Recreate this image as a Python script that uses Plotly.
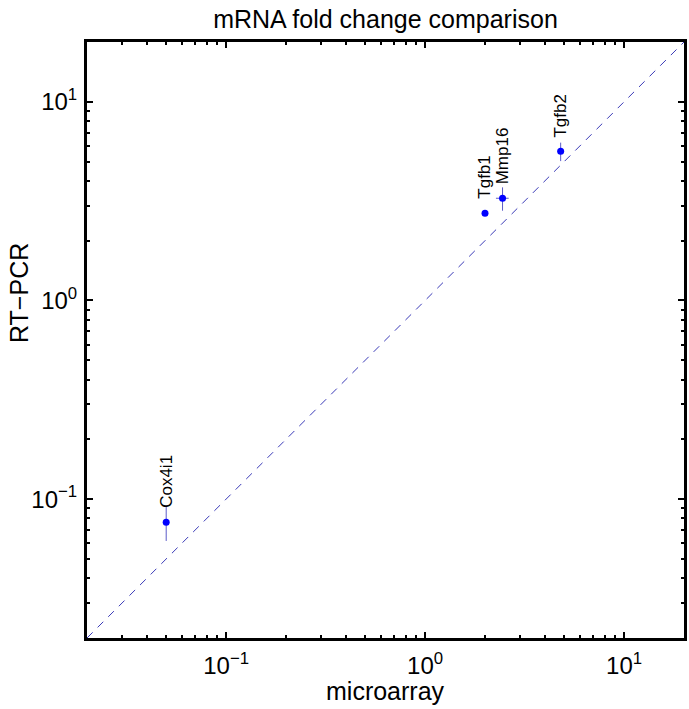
import math
import plotly.graph_objects as go

# ---- data ----
genes = ["Cox4i1", "Tgfb1", "Mmp16", "Tgfb2"]
microarray = [0.05, 2.0, 2.45, 4.8]
rtpcr = [0.0766, 2.75, 3.27, 5.63]
rtpcr_err = [0.015, 0.0, 0.44, 0.6]
microarray_err = [0.0, 0.0, 0.18, 0.0]

axis_lo, axis_hi = 0.02, 20
tick_vals = [0.1, 1, 10]
tick_text = ["10<sup>−1</sup>", "10<sup>0</sup>", "10<sup>1</sup>"]
minor_vals = [m * d for d in [0.01, 0.1, 1, 10] for m in range(2, 10)
              if axis_lo <= m * d <= axis_hi]

FONT = "Liberation Sans, Arial, Helvetica, sans-serif"
W, H = 689, 709
L, R, T, B = 87, 5, 42, 71

fig = go.Figure()

# identity line
fig.add_trace(go.Scatter(
    x=[axis_lo, axis_hi], y=[axis_lo, axis_hi], mode="lines",
    line=dict(color="#3a3ab8", width=1, dash="8px,7px"),
    hoverinfo="skip", showlegend=False))

# points with error bars
fig.add_trace(go.Scatter(
    x=microarray, y=rtpcr, mode="markers",
    marker=dict(color="#0000ff", size=7),
    error_y=dict(type="data", array=rtpcr_err, visible=True,
                 color="#5a5ac8", thickness=1, width=0),
    error_x=dict(type="data", array=microarray_err, visible=True,
                 color="#5a5ac8", thickness=1, width=0),
    text=genes, showlegend=False))

for g, xv, yv in zip(genes, microarray, rtpcr):
    fig.add_annotation(x=math.log10(xv), y=math.log10(yv), xref="x", yref="y",
                       text=g, textangle=-90, showarrow=False,
                       xanchor="center", yanchor="bottom", yshift=12,
                       font=dict(family=FONT, size=17, color="black"))

axis_common = dict(
    type="log", range=[math.log10(axis_lo), math.log10(axis_hi)],
    tickmode="array", tickvals=tick_vals, ticktext=tick_text,
    ticks="inside", ticklen=6, tickwidth=2, tickcolor="black",
    showline=True, linewidth=3, linecolor="black", mirror="ticks",
    showgrid=False, zeroline=False, automargin=False,
    tickfont=dict(family=FONT, size=24, color="black"),
    minor=dict(tickmode="array", tickvals=minor_vals, ticks="inside",
               ticklen=3, tickwidth=2, tickcolor="black", showgrid=False),
)

# axis titles as paper annotations
fig.add_annotation(text="microarray", xref="paper", yref="paper",
                   x=0.5, y=-(691 - (H - B)) / (H - T - B),
                   xanchor="center", yanchor="middle", showarrow=False,
                   font=dict(family=FONT, size=25, color="black"))
fig.add_annotation(text="RT−PCR", xref="paper", yref="paper",
                   x=-(L - 19) / (W - L - R), y=((H - B) - 293) / (H - T - B),
                   xanchor="center", yanchor="middle", textangle=-90,
                   showarrow=False,
                   font=dict(family=FONT, size=25, color="black"))

fig.update_layout(
    width=W, height=H,
    margin=dict(l=L, r=R, t=T, b=B, autoexpand=False),
    paper_bgcolor="white", plot_bgcolor="white",
    font=dict(family=FONT, color="black"),
    title=dict(text="mRNA fold change comparison", x=0.5, xref="paper",
               y=1 - 19 / H, yref="container", yanchor="middle",
               font=dict(family=FONT, size=25, color="black")),
    xaxis=dict(axis_common, ticklabelstandoff=4),
    yaxis=dict(axis_common, ticklabelstandoff=2),
)

fig.write_html("out.html",
               config={"displayModeBar": False},
               post_script="document.body.style.margin='0';"
                           "document.body.style.overflow='hidden';")
